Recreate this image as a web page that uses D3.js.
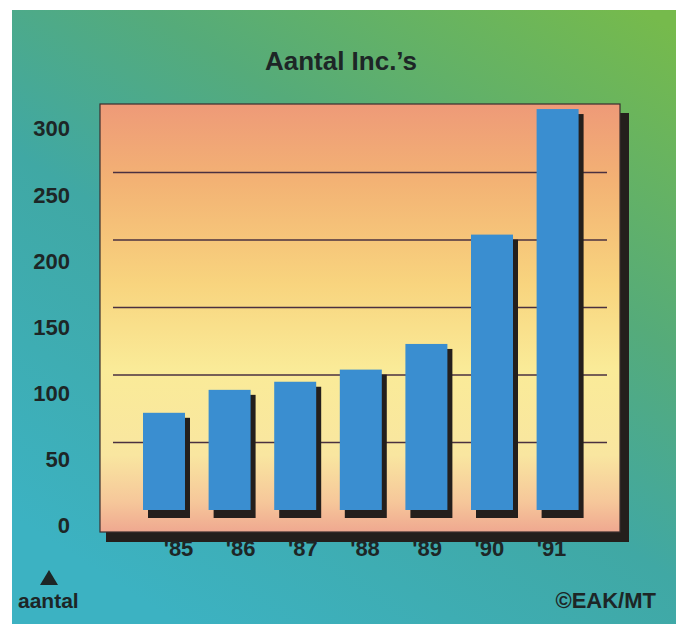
<!DOCTYPE html>
<html>
<head>
<meta charset="utf-8">
<script src="https://cdn.jsdelivr.net/npm/d3@7"></script>
<style>
  html, body { margin: 0; padding: 0; background: #ffffff; }
  svg { display: block; }
  text { font-family: "Liberation Sans", Arial, Helvetica, sans-serif; font-weight: bold; fill: #1d2626; }
</style>
</head>
<body>
<script>
// ---- data ----
const years = ["'85", "'86", "'87", "'88", "'89", "'90", "'91"];
const values = [72, 89, 95, 104, 123, 204, 297];
const tickValues = [0, 50, 100, 150, 200, 250, 300];
const gridValues = [50, 100, 150, 200, 250];
const title = "Aantal Inc.’s";
const unitLabel = "aantal";
const credit = "©EAK/MT";

const W = 676, H = 624;
const svg = d3.select("body").append("svg").attr("width", W).attr("height", H);
const defs = svg.append("defs");

const bg = defs.append("linearGradient").attr("id", "bg")
  .attr("x1", "0.95").attr("y1", "0").attr("x2", "0.25").attr("y2", "1");
bg.append("stop").attr("offset", "0").attr("stop-color", "#76ba4c");
bg.append("stop").attr("offset", "0.35").attr("stop-color", "#55ab7a");
bg.append("stop").attr("offset", "0.6").attr("stop-color", "#40a8a4");
bg.append("stop").attr("offset", "1").attr("stop-color", "#3cb2c2");

const pg = defs.append("linearGradient").attr("id", "panel")
  .attr("x1", "0").attr("y1", "0").attr("x2", "0").attr("y2", "1");
pg.append("stop").attr("offset", "0").attr("stop-color", "#ee9a78");
pg.append("stop").attr("offset", "0.18").attr("stop-color", "#f3b274");
pg.append("stop").attr("offset", "0.42").attr("stop-color", "#f8d47e");
pg.append("stop").attr("offset", "0.62").attr("stop-color", "#faeb98");
pg.append("stop").attr("offset", "0.82").attr("stop-color", "#f9e6a0");
pg.append("stop").attr("offset", "0.93").attr("stop-color", "#f6c79a");
pg.append("stop").attr("offset", "1").attr("stop-color", "#ef a890".replace(" ", ""));

// background
svg.append("rect").attr("x", 12).attr("y", 10).attr("width", W - 12).attr("height", H - 10)
  .attr("fill", "url(#bg)");

// scales
const panel = { x0: 100, y0: 104, x1: 620, y1: 532 };
const x = d3.scaleBand().domain(years).range([131.2, 590.4]).paddingInner(0.36).paddingOuter(0.18);
const y = d3.scaleLinear().domain([0, 300]).range([510, 105]);
const yLab = d3.scaleLinear().domain([0, 300]).range([524.5, 128]);
const xLab = d3.scalePoint().domain(years).range([178, 551]);

// panel shadow + panel
svg.append("rect").attr("x", panel.x0 + 6).attr("y", panel.y0 + 9)
  .attr("width", panel.x1 - panel.x0 + 3).attr("height", panel.y1 - panel.y0 + 1)
  .attr("fill", "#241f1c");
svg.append("rect").attr("x", panel.x0).attr("y", panel.y0)
  .attr("width", panel.x1 - panel.x0).attr("height", panel.y1 - panel.y0)
  .attr("fill", "url(#panel)").attr("stroke", "#3a2e2e").attr("stroke-width", 1.2);

// gridlines
svg.append("g").selectAll("line").data(gridValues).join("line")
  .attr("x1", 113).attr("x2", 607)
  .attr("y1", d => y(d)).attr("y2", d => y(d))
  .attr("stroke", "#4a3040").attr("stroke-width", 1.6);

// bar shadows
svg.append("g").selectAll("rect").data(values).join("rect")
  .attr("x", (d, i) => x(years[i]) + 5)
  .attr("y", d => y(d) + 5)
  .attr("width", x.bandwidth())
  .attr("height", d => y(0) - y(d) + 3)
  .attr("fill", "#241f1c");

// bars
svg.append("g").selectAll("rect").data(values).join("rect")
  .attr("x", (d, i) => x(years[i]))
  .attr("y", d => y(d))
  .attr("width", x.bandwidth())
  .attr("height", d => y(0) - y(d))
  .attr("fill", "#3a8ed0");

// y axis labels
const ya = svg.append("g").attr("transform", "translate(70,0)")
  .call(d3.axisLeft(yLab).tickValues(tickValues).tickSize(0).tickPadding(0));
ya.select(".domain").remove();
ya.selectAll("text").attr("font-size", 22).attr("font-family", null).attr("fill", null)
  .attr("dy", "0.36em");

// x axis labels
const xa = svg.append("g").attr("transform", "translate(0,540)")
  .call(d3.axisBottom(xLab).tickSize(0).tickPadding(0));
xa.select(".domain").remove();
xa.selectAll("text").attr("font-size", 22).attr("font-family", null).attr("fill", null)
  .attr("dy", "0.72em");

// title
svg.append("text").attr("x", 341).attr("y", 70).attr("text-anchor", "middle")
  .attr("font-size", 26).text(title);

// unit marker
svg.append("path").attr("d", "M49,570 L58,585 L40,585 Z").attr("fill", "#1d2626");
svg.append("text").attr("x", 18).attr("y", 608).attr("font-size", 21).text(unitLabel);

// credit
svg.append("text").attr("x", 656).attr("y", 608).attr("text-anchor", "end")
  .attr("font-size", 22).text(credit);
</script>
</body>
</html>
